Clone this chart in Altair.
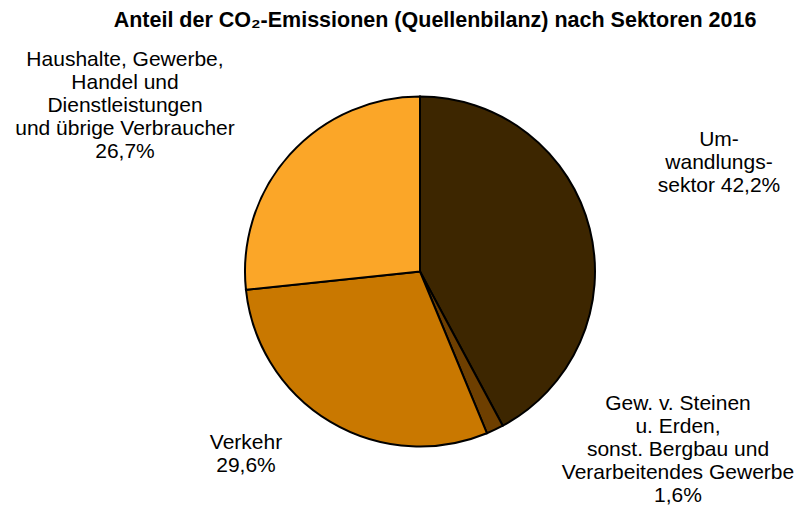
import altair as alt
import pandas as pd

# Data
sectors = [
    "Umwandlungssektor",
    "Gew. v. Steinen u. Erden, sonst. Bergbau und Verarbeitendes Gewerbe",
    "Verkehr",
    "Haushalte, Gewerbe, Handel und Dienstleistungen und übrige Verbraucher",
]
shares = [42.2, 1.6, 29.6, 26.7]
label_lines = [
    ["Um-", "wandlungs-", "sektor {v}"],
    ["Gew. v. Steinen", "u. Erden,", "sonst. Bergbau und", "Verarbeitendes Gewerbe", "{v}"],
    ["Verkehr", "{v}"],
    ["Haushalte, Gewerbe,", "Handel und", "Dienstleistungen", "und übrige Verbraucher", "{v}"],
]
colors = ["#3d2600", "#6e3f00", "#c97800", "#fba628"]
title_text = "Anteil der CO₂-Emissionen (Quellenbilanz) nach Sektoren 2016"

# Layout (label anchor positions in plot pixels: center x, first line middle y)
label_x = [711, 670, 238, 117]
label_y = [132, 396, 435, 52]

def fmt(v):
    return f"{v:.1f}".replace(".", ",") + "%"

df = pd.DataFrame({"sector": sectors, "share": shares, "order": list(range(len(sectors)))})

labels = pd.DataFrame({
    "text": ["\n".join(l.replace("{v}", fmt(v)) for l in lines) for lines, v in zip(label_lines, shares)],
    "px": label_x,
    "py": label_y,
})

W, H = 787, 497
cx, cy, R = 412, 263.5, 175

pie = alt.Chart(df).mark_arc(radius=R, stroke="black", strokeWidth=2).encode(
    theta=alt.Theta("share:Q", stack=True),
    order=alt.Order("order:Q"),
    color=alt.Color("sector:N", scale=alt.Scale(domain=sectors, range=colors), legend=None),
    x=alt.value(cx),
    y=alt.value(cy),
)

text = alt.Chart(labels).mark_text(
    font="Liberation Sans", fontSize=21, lineBreak="\n", lineHeight=23,
    align="center", baseline="middle", color="black",
).encode(
    x=alt.X("px:Q", scale=alt.Scale(domain=[0, W], range=[0, W]), axis=None),
    y=alt.Y("py:Q", scale=alt.Scale(domain=[0, H], range=[0, H]), axis=None),
    text="text:N",
)

title = alt.Chart(pd.DataFrame({"t": [title_text]})).mark_text(
    font="Liberation Sans", fontSize=21.5, fontWeight="bold", align="center", baseline="middle", color="black",
).encode(x=alt.value(427), y=alt.value(12.5), text="t:N")

chart = alt.layer(pie, text, title).properties(
    width=W, height=H, padding=0, autosize=alt.AutoSizeParams(type="none")
).configure_view(strokeWidth=0)

chart.save("out.html", embed_options={"renderer": "svg", "actions": False})
